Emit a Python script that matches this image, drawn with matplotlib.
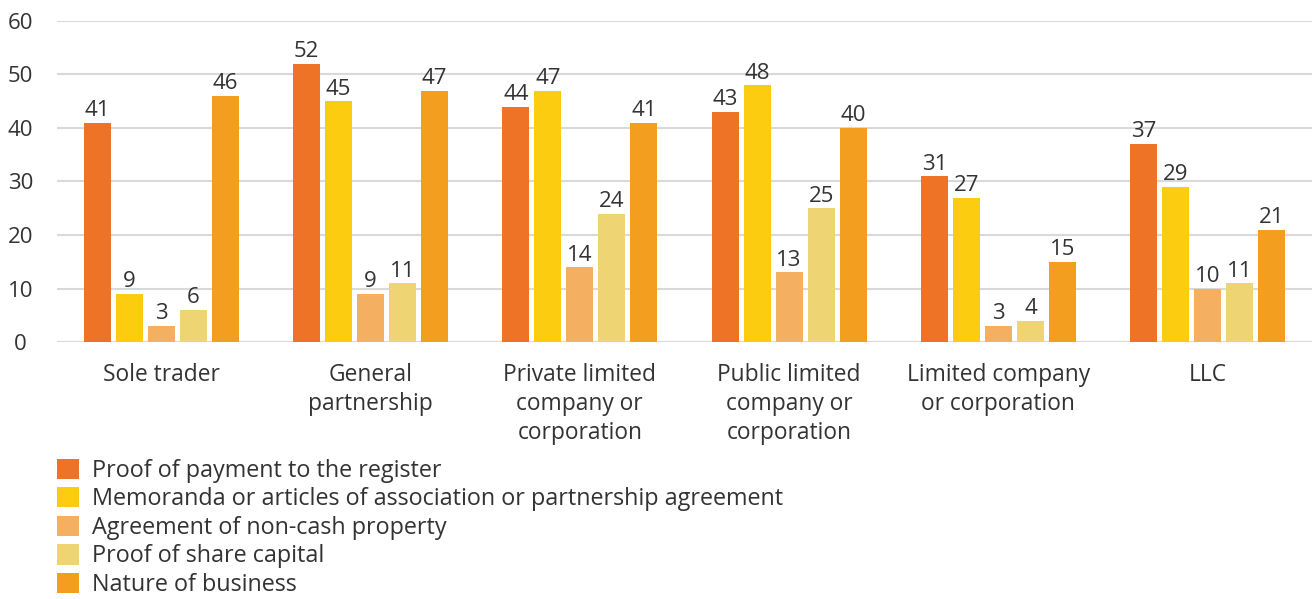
import numpy as np
import matplotlib.pyplot as plt

# categories and series
categories = ["Sole trader", "General\npartnership", "Private limited\ncompany or\ncorporation",
              "Public limited\ncompany or\ncorporation", "Limited company\nor corporation", "LLC"]
series_names = [
  "Proof of payment to the register",
  "Memoranda or articles of association or partnership agreement",
  "Agreement of non-cash property",
  "Proof of share capital",
  "Nature of business",
]
proof_payment = [41, 52, 44, 43, 31, 37]
memoranda = [9, 45, 47, 48, 27, 29]
non_cash = [3, 9, 14, 13, 3, 10]
share_capital = [6, 11, 24, 25, 4, 11]
nature_business = [46, 47, 41, 40, 15, 21]
colors = ["#EE7326", "#FBCC0F", "#F4B060", "#EED473", "#F49E20"]

plt.rcParams['font.family'] = ['Open Sans', 'DejaVu Sans']
text_color = "#333333"

fig = plt.figure(figsize=(13.15, 5.99), dpi=100)
ax = fig.add_axes([0.043, 0.429, 0.955, 0.536])

x = np.arange(len(categories))
slot = 0.153
width = 0.129
all_series = [proof_payment, memoranda, non_cash, share_capital, nature_business]
for i, (vals, name, c) in enumerate(zip(all_series, series_names, colors)):
  pos = x + (i - 2) * slot
  bars = ax.bar(pos, vals, width=width, color=c, label=name, zorder=3)
  for b, v in zip(bars, vals):
    ax.text(b.get_x() + b.get_width() / 2, v + 0.3, str(v), ha='center', va='bottom',
            fontsize=16, color=text_color, zorder=4)

ax.set_xlim(-0.5, len(categories) - 0.5)
ax.set_ylim(0, 60)
ax.set_yticks(range(0, 61, 10))
ax.yaxis.grid(True, color="#D9D9D9", linewidth=1.5, zorder=0)
ax.set_axisbelow(True)
for s in ax.spines.values():
  s.set_visible(False)
ax.axhline(0, color="#D9D9D9", linewidth=1.5, zorder=1)

ax.set_xticks(x)
ax.set_xticklabels(categories, fontsize=16.4, color=text_color, linespacing=1.29)
ax.tick_params(axis='x', length=0, pad=15)
ax.tick_params(axis='y', length=0, pad=26, labelsize=16, labelcolor=text_color)
for lbl in ax.get_yticklabels():
  lbl.set_horizontalalignment('center')

fig.legend(loc='upper left', bbox_to_anchor=(0.0433, 0.234), frameon=False, fontsize=16.8,
           handlelength=0.95, handleheight=0.95, handletextpad=0.55, labelspacing=0.19,
           borderaxespad=0, borderpad=0, labelcolor=text_color)

fig.savefig("out.png", dpi=100)
